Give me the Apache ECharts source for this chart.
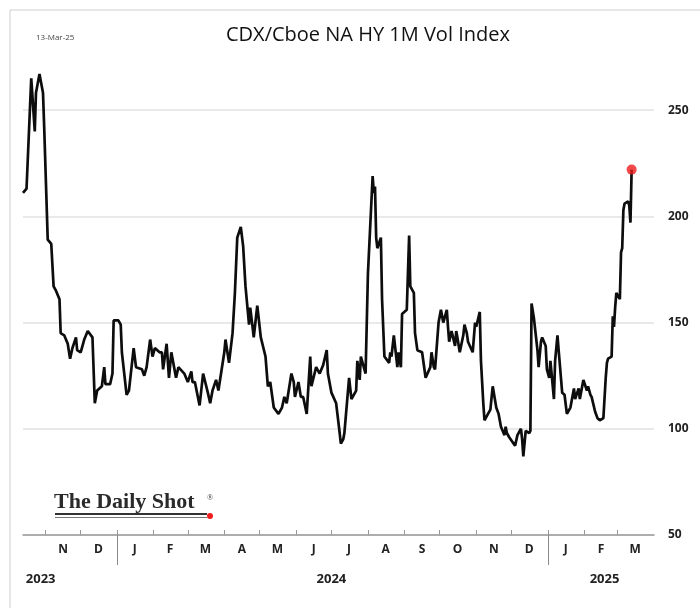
<!DOCTYPE html>
<html>
<head>
<meta charset="utf-8">
<script src="https://cdn.jsdelivr.net/npm/echarts@6/dist/echarts.min.js"></script>
<style>
  html, body { margin: 0; padding: 0; background: #fff; }
  #chart { width: 700px; height: 608px; }
</style>
</head>
<body>
<div id="chart"></div>
<script>
// values, one array per year
var dates2023 = ['2023-10-13','2023-10-16','2023-10-20','2023-10-23','2023-10-24','2023-10-27','2023-10-30','2023-10-31',
  '2023-11-03','2023-11-06','2023-11-08','2023-11-10','2023-11-13','2023-11-14','2023-11-17','2023-11-20','2023-11-22',
  '2023-11-24','2023-11-27','2023-11-28','2023-12-01','2023-12-04','2023-12-07','2023-12-11','2023-12-13','2023-12-15',
  '2023-12-19','2023-12-21','2023-12-22','2023-12-26','2023-12-28','2023-12-29'];
var values2023 = [211,213,265,240,258,267,258,242,
  189,187,167,165,161,145,144,140,133,
  138,143,137,136,142,146,143,112,118,
  120,129,121,121,126,151];

var dates2024 = ['2024-01-02','2024-01-04','2024-01-05','2024-01-09','2024-01-11','2024-01-15','2024-01-17','2024-01-22',
  '2024-01-24','2024-01-26','2024-01-29','2024-01-31','2024-02-02','2024-02-06','2024-02-08','2024-02-09','2024-02-12',
  '2024-02-14','2024-02-16','2024-02-20','2024-02-22','2024-02-27','2024-03-01','2024-03-04','2024-03-05','2024-03-07',
  '2024-03-11','2024-03-14','2024-03-18','2024-03-20','2024-03-22','2024-03-25','2024-03-27','2024-04-01','2024-04-02',
  '2024-04-05','2024-04-08','2024-04-10','2024-04-12','2024-04-15','2024-04-17','2024-04-19','2024-04-22','2024-04-23',
  '2024-04-25','2024-04-26','2024-04-29','2024-05-02','2024-05-06','2024-05-08','2024-05-10','2024-05-13','2024-05-17',
  '2024-05-20','2024-05-22','2024-05-24','2024-05-28','2024-05-30','2024-05-31','2024-06-03','2024-06-05','2024-06-07',
  '2024-06-10','2024-06-13','2024-06-14','2024-06-18','2024-06-21','2024-06-24','2024-06-27','2024-06-28','2024-07-01',
  '2024-07-05','2024-07-08','2024-07-09','2024-07-11','2024-07-12','2024-07-16','2024-07-18','2024-07-22','2024-07-23',
  '2024-07-25','2024-07-26','2024-07-30','2024-08-01','2024-08-05','2024-08-06','2024-08-07','2024-08-08','2024-08-09',
  '2024-08-12','2024-08-13','2024-08-15','2024-08-19','2024-08-20','2024-08-21','2024-08-23','2024-08-26','2024-08-27',
  '2024-08-29','2024-08-30','2024-09-03','2024-09-05','2024-09-06','2024-09-09','2024-09-10','2024-09-12','2024-09-16',
  '2024-09-17','2024-09-19','2024-09-23','2024-09-24','2024-09-26','2024-09-27','2024-09-30','2024-10-02','2024-10-04',
  '2024-10-07','2024-10-08','2024-10-09','2024-10-11','2024-10-14','2024-10-15','2024-10-16','2024-10-18','2024-10-21',
  '2024-10-22','2024-10-24','2024-10-25','2024-10-29','2024-10-31','2024-11-01','2024-11-04','2024-11-05','2024-11-07',
  '2024-11-08','2024-11-11','2024-11-13','2024-11-15','2024-11-18','2024-11-20','2024-11-22','2024-11-25','2024-11-26',
  '2024-11-27','2024-11-29','2024-12-04','2024-12-06','2024-12-09','2024-12-10','2024-12-11','2024-12-13','2024-12-16',
  '2024-12-17','2024-12-18','2024-12-20','2024-12-23','2024-12-24','2024-12-26','2024-12-27','2024-12-30','2024-12-31'];
var values2024 = [151,149,136,116,118,138,129,128,
  125,129,142,134,138,136,136,128,140,
  124,136,124,129,126,122,127,122,122,
  111,126,117,112,118,123,118,136,142,
  131,145,164,190,195,186,167,149,157,
  148,143,158,143,134,120,122,110,107,
  110,115,112,126,122,115,122,115,115,
  107,134,120,129,126,130,137,126,117,
  112,98,93,95,98,124,114,118,132,
  123,134,126,173,219,211,214,190,185,
  190,161,134,131,136,134,144,129,136,
  129,154,156,191,167,164,145,137,136,
  132,124,129,136,129,128,150,156,150,
  156,148,141,146,139,146,143,136,144,
  149,145,141,136,150,148,155,132,112,
  104,107,109,120,110,107,101,97,101,
  98,96,92,97,100,95,87,99,98,
  99,159,152,137,129,141,143,139,128];

var dates2025 = ['2025-01-02','2025-01-03','2025-01-06','2025-01-07','2025-01-09','2025-01-10','2025-01-13','2025-01-15',
  '2025-01-17','2025-01-20','2025-01-21','2025-01-23','2025-01-24','2025-01-27','2025-01-28','2025-01-31','2025-02-03',
  '2025-02-04','2025-02-06','2025-02-07','2025-02-10','2025-02-12','2025-02-14','2025-02-17','2025-02-19','2025-02-20',
  '2025-02-21','2025-02-24','2025-02-25','2025-02-26','2025-02-27','2025-02-28','2025-03-03','2025-03-04','2025-03-05',
  '2025-03-06','2025-03-07','2025-03-10','2025-03-11','2025-03-12','2025-03-13'];
var values2025 = [124,132,114,132,144,137,117,116,
  107,110,110,119,114,119,114,123,118,
  120,116,115,108,105,104,105,124,131,
  133,134,153,148,157,164,161,183,185,
  203,206,207,205,197,222];

var monthTicks = ['2023-11-01','2023-12-01','2024-01-01','2024-02-01','2024-03-01','2024-04-01','2024-05-01','2024-06-01',
  '2024-07-01','2024-08-01','2024-09-01','2024-10-01','2024-11-01','2024-12-01','2025-01-01','2025-02-01','2025-03-01'];
var monthLabelAt = ['2023-11-16','2023-12-16','2024-01-16','2024-02-15','2024-03-16','2024-04-16','2024-05-16','2024-06-16',
  '2024-07-16','2024-08-16','2024-09-16','2024-10-16','2024-11-16','2024-12-16','2025-01-16','2025-02-15','2025-03-16'];
var monthLetters = ['J','F','M','A','M','J','J','A','S','O','N','D'];
var yearTicks = ['2024-01-01','2025-01-01'];
var yearLabelAt = ['2023-10-28','2024-07-01','2025-02-18'];
var yAxisTicks = [50, 100, 150, 200, 250];

function ts(s) {
  var p = s.split('-');
  return new Date(+p[0], +p[1] - 1, +p[2]).getTime();
}

var allDates = dates2023.concat(dates2024, dates2025);
var allValues = values2023.concat(values2024, values2025);
var lineData = allDates.map(function (d, i) { return [ts(d), allValues[i]]; });
var lastPoint = lineData[lineData.length - 1];

var chart = echarts.init(document.getElementById('chart'));
var labelFont = '"Open Sans", "Liberation Sans", sans-serif';
var xMin = ts('2023-10-13');
var xMax = ts('2025-04-01');

var option = {
  backgroundColor: '#fff',
  animation: false,
  title: {
    text: 'CDX/Cboe NA HY 1M Vol Index',
    left: 221,
    top: 20,
    textStyle: { fontFamily: labelFont, fontSize: 20, fontWeight: 'normal', color: '#111' }
  },
  grid: { left: 23, right: 46, top: 57, bottom: 73 },
  xAxis: [{
    type: 'value',
    min: xMin,
    max: xMax,
    axisLine: { show: true, lineStyle: { color: '#999', width: 1.5 } },
    axisTick: { show: true, inside: true, length: 5, lineStyle: { color: '#999' },
      customValues: monthTicks.map(ts) },
    axisLabel: {
      customValues: monthLabelAt.map(ts),
      margin: 9,
      fontFamily: labelFont, fontSize: 12, fontWeight: 'bold', color: '#222',
      formatter: function (v) { return monthLetters[new Date(v).getMonth()]; }
    },
    splitLine: { show: false }
  }, {
    type: 'value',
    position: 'bottom',
    min: xMin,
    max: xMax,
    axisLine: { show: false },
    axisTick: { show: true, inside: false, length: 30, lineStyle: { color: '#888' },
      customValues: yearTicks.map(ts) },
    axisLabel: {
      customValues: yearLabelAt.map(ts),
      margin: 38,
      fontFamily: labelFont, fontSize: 13, fontWeight: 'bold', color: '#222',
      formatter: function (v) { return String(new Date(v).getFullYear()); }
    },
    splitLine: { show: false }
  }],
  yAxis: {
    type: 'value',
    position: 'right',
    min: 50,
    max: 275,
    interval: 50,
    axisLine: { show: false },
    axisTick: { show: false },
    axisLabel: {
      margin: 14,
      showMaxLabel: false,
      fontFamily: labelFont, fontSize: 12, fontWeight: 'bold', color: '#222',
      formatter: function (v) { return yAxisTicks.indexOf(v) >= 0 ? String(v) : ''; }
    },
    splitLine: { show: true, lineStyle: { width: 1.5,
      color: ['#e2e2e2','#e2e2e2','#e2e2e2','#e2e2e2','#e2e2e2','rgba(0,0,0,0)'] } }
  },
  series: [{
    type: 'line',
    data: lineData,
    showSymbol: false,
    lineStyle: { color: '#0d0d0d', width: 2.7 },
    z: 3
  }, {
    type: 'scatter',
    data: [lastPoint],
    symbolSize: 10,
    itemStyle: { color: '#ee1c1c' },
    z: 4
  }],
  graphic: [
    { type: 'polyline', shape: { points: [[10, 608], [10, 10], [700, 10]] },
      style: { stroke: '#cfcfcf', lineWidth: 1, fill: null } },
    { type: 'text', left: 36, top: 34,
      style: { text: '13-Mar-25', fontSize: 8, fill: '#444', fontFamily: labelFont } },
    { type: 'text', left: 54, top: 491,
      style: { text: 'The Daily Shot', fontSize: 22, fontWeight: 'bold', fill: '#2a2a2a',
        fontFamily: '"Liberation Serif", serif' } },
    { type: 'text', left: 207, top: 494,
      style: { text: '®', fontSize: 8, fill: '#333', fontFamily: '"Liberation Serif", serif' } },
    { type: 'line', shape: { x1: 55, y1: 514, x2: 207, y2: 514 }, style: { stroke: '#333', lineWidth: 1.8 } },
    { type: 'line', shape: { x1: 55, y1: 517.5, x2: 207, y2: 517.5 }, style: { stroke: '#777', lineWidth: 1 } },
    { type: 'circle', shape: { cx: 210, cy: 516, r: 3 }, style: { fill: '#ee1c1c' } }
  ]
};

chart.setOption(option);
</script>
</body>
</html>
